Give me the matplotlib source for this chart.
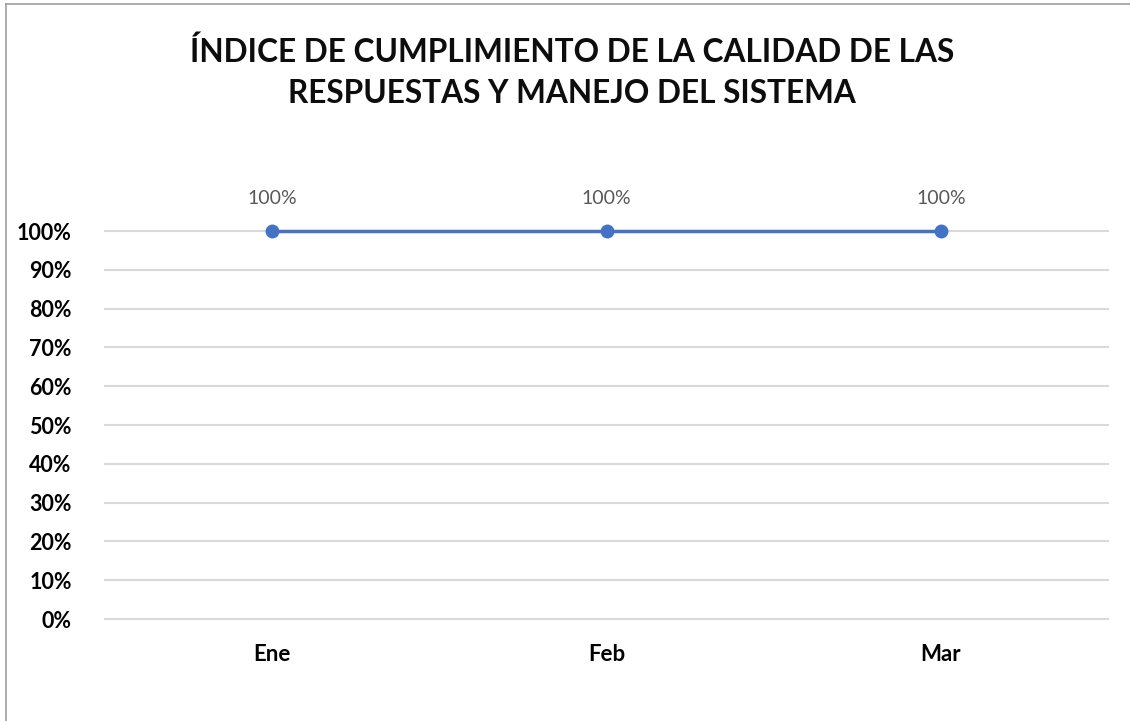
import matplotlib
matplotlib.use("Agg")
import matplotlib.pyplot as plt
from matplotlib.ticker import FuncFormatter, MultipleLocator
from matplotlib.lines import Line2D

months = ["Ene", "Feb", "Mar"]
values = [1.0, 1.0, 1.0]
title = "ÍNDICE DE CUMPLIMIENTO DE LA CALIDAD DE LAS\nRESPUESTAS Y MANEJO DEL SISTEMA"

plt.rcParams['font.family'] = ['Lato', 'DejaVu Sans']

W, H = 1130, 721
fig = plt.figure(figsize=(W/100, H/100), dpi=100)
fig.patch.set_facecolor("white")
# top and left border only
fig.add_artist(Line2D([5.5/W, 5.5/W], [0, 1 - 3.5/H], transform=fig.transFigure,
                      color="#A0A0A0", linewidth=1.2))
fig.add_artist(Line2D([5.5/W, 1], [1 - 3.5/H, 1 - 3.5/H], transform=fig.transFigure,
                      color="#A0A0A0", linewidth=1.2))

left, right = 105/W, 1108/W
bottom, top = 1 - 619/H, 1 - 231/H
ax = fig.add_axes([left, bottom, right-left, top-bottom])
x = list(range(len(months)))
ax.plot(x, values, color="#4472C4", linewidth=2.5, marker="o", markersize=9,
        zorder=3, clip_on=False)
for xi, v in zip(x, values):
    ax.annotate(f"{v:.0%}", (xi, v), xytext=(0, 17), textcoords="offset points",
                ha="center", va="bottom", fontsize=14, color="#595959")

ax.set_xlim(-0.5, len(months) - 0.5)
ax.set_ylim(0, 1.0)
ax.yaxis.set_major_locator(MultipleLocator(0.1))
ax.yaxis.set_major_formatter(FuncFormatter(lambda v, p: f"{v:.0%}"))
ax.set_xticks(x)
ax.set_xticklabels(months)
for s in ax.spines.values():
    s.set_visible(False)
ax.grid(axis="y", color="#D9D9D9", linewidth=1.5)
for gl in ax.get_ygridlines():
    gl.set_clip_on(False)
ax.set_axisbelow(True)
ax.tick_params(axis="both", length=0)
ax.tick_params(axis="y", pad=24)
ax.tick_params(axis="x", pad=18)
for lab in ax.get_yticklabels():
    lab.set_fontweight("bold")
    lab.set_fontsize(15.5)
    lab.set_color("#000000")
for lab in ax.get_xticklabels():
    lab.set_fontweight("bold")
    lab.set_fontsize(16)
    lab.set_color("#000000")

fig.text(572/W, 1 - 72/H, title, ha="center", va="center", fontsize=22.8,
         fontweight="bold", color="#0D0D0D", linespacing=1.5)

fig.savefig("out.png", dpi=100, facecolor="white")
